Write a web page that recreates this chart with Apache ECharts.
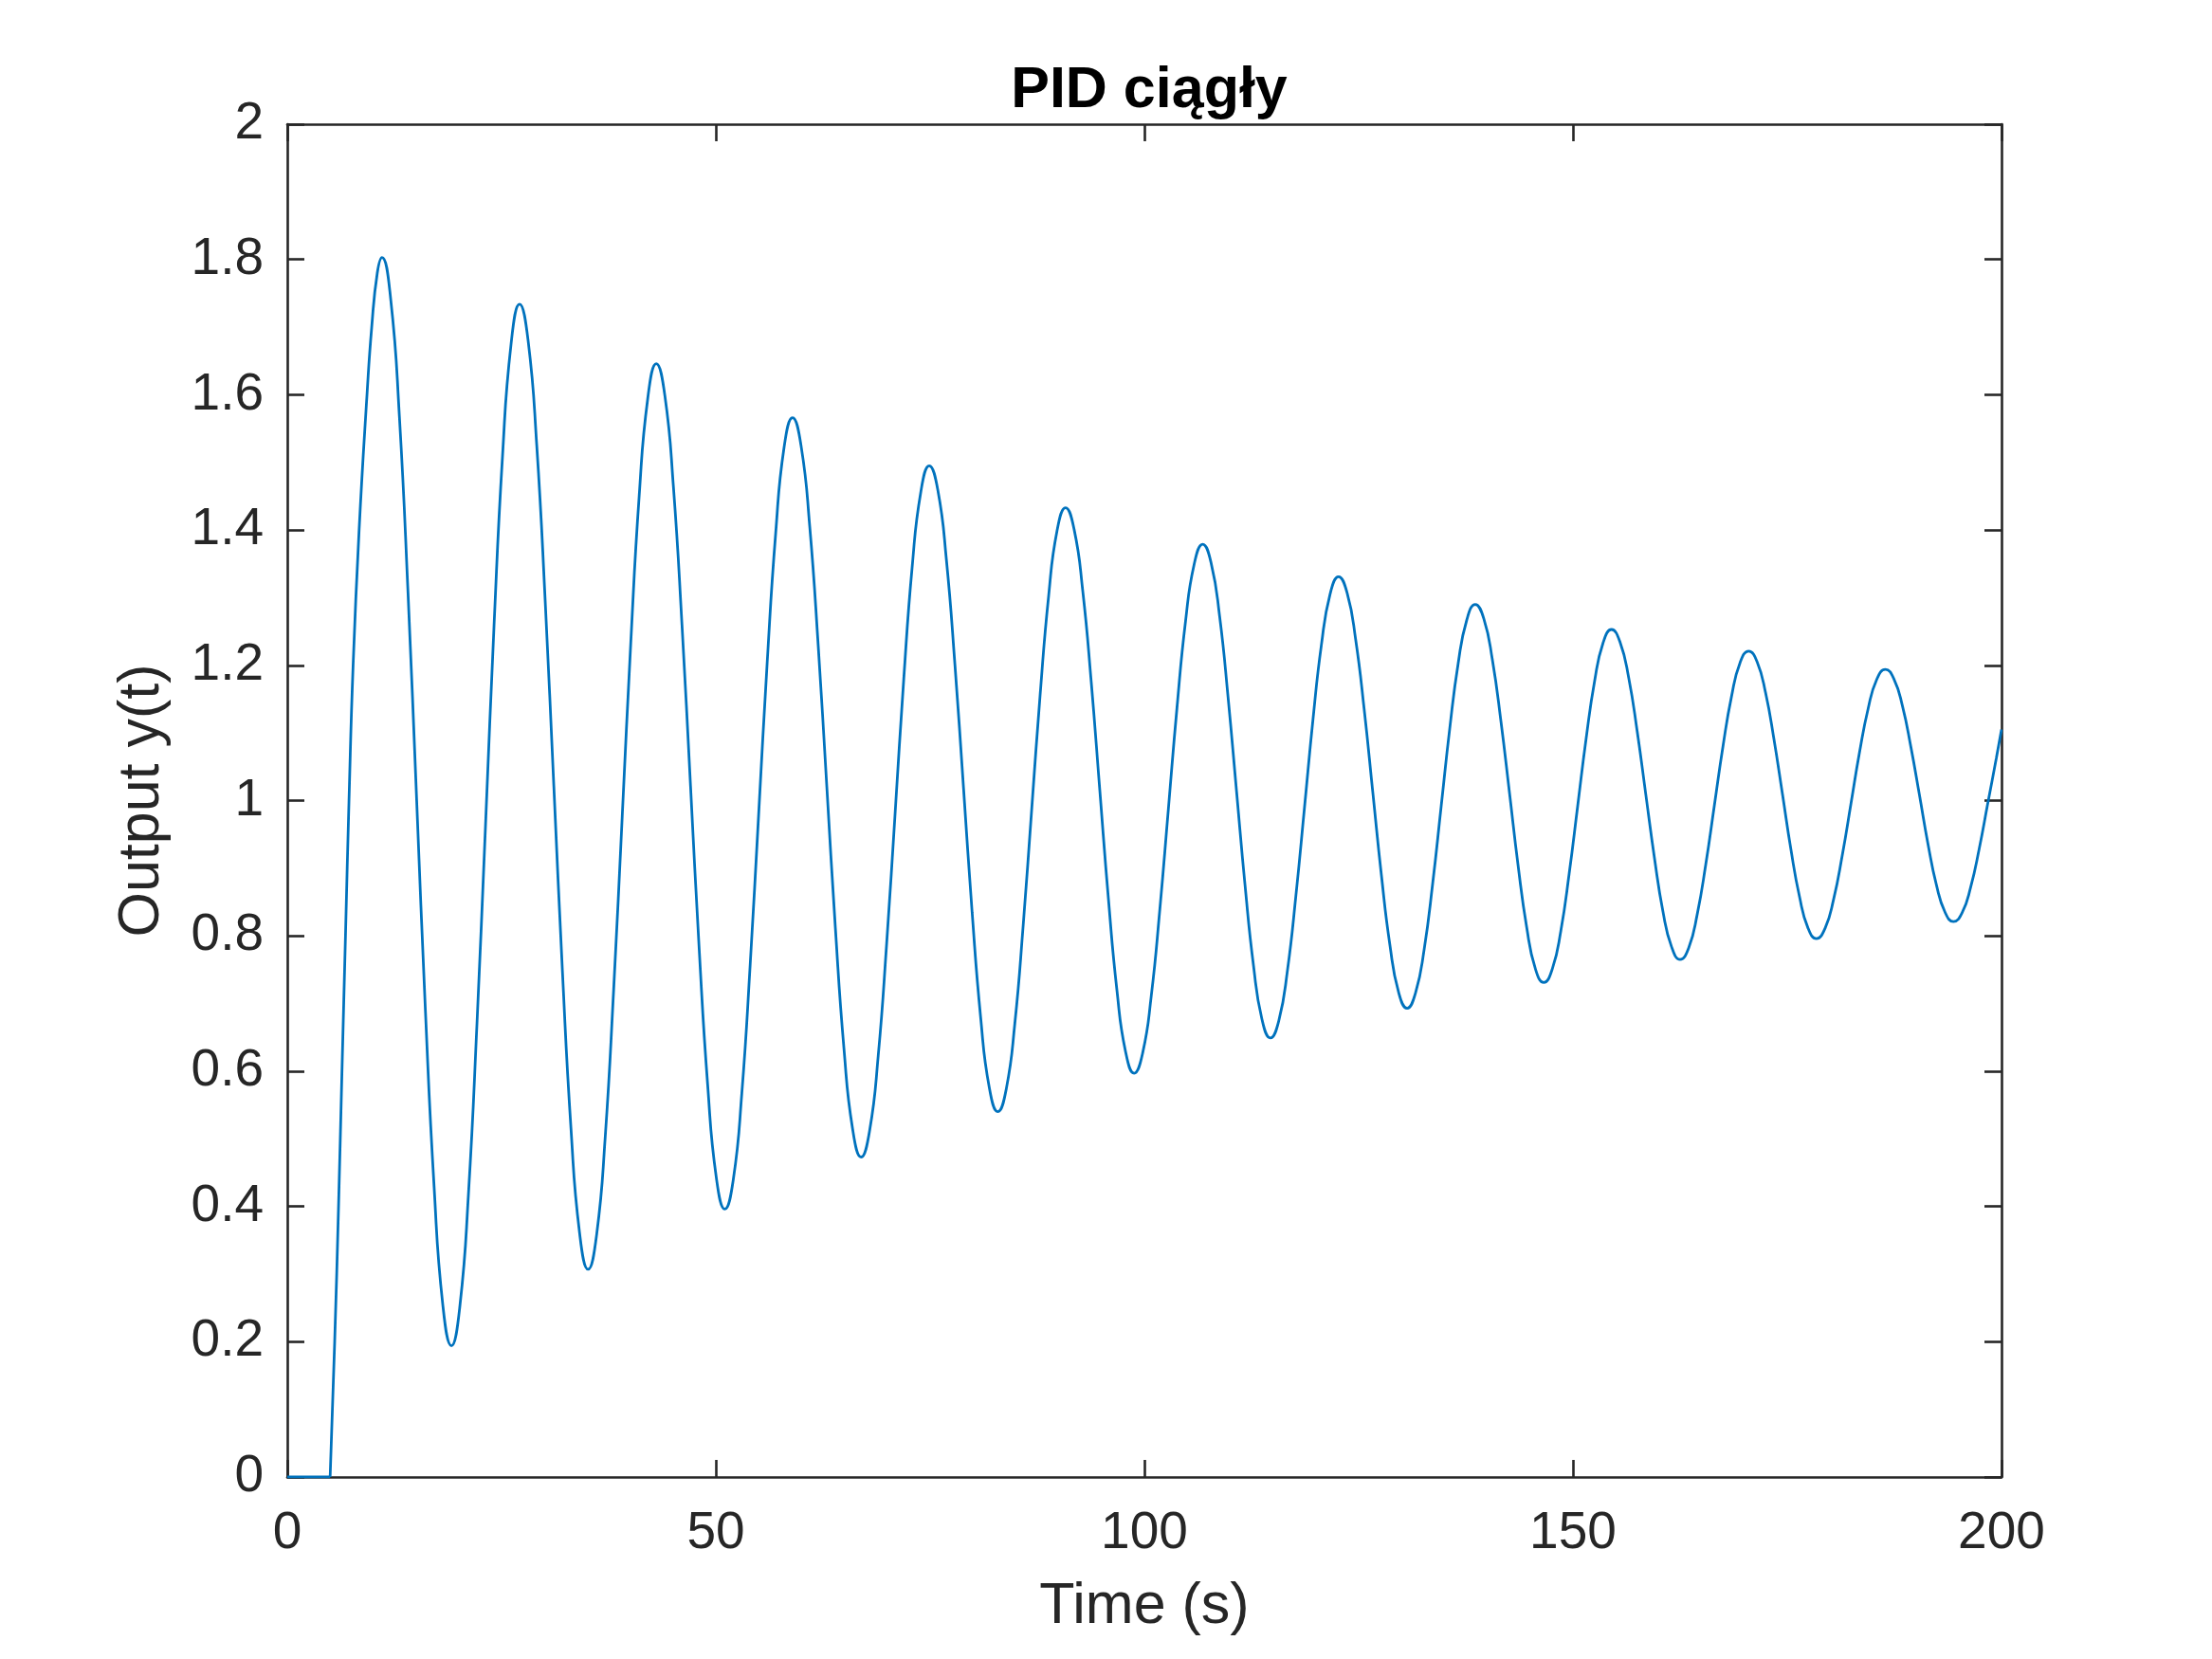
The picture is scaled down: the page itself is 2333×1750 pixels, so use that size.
<!DOCTYPE html>
<html>
<head>
<meta charset="utf-8">
<script src="https://cdn.jsdelivr.net/npm/echarts@6/dist/echarts.min.js"></script>
<style>
html,body{margin:0;padding:0;background:#fff;}
#chart{width:2333px;height:1750px;}
</style>
</head>
<body>
<div id="chart"></div>
<script>
// ---- data ----
var titleText = 'PID ciągły';
var xName = 'Time (s)';
var yName = 'Output y(t)';

var delayTime = [0, 5];
var delayOutput = [0, 0];

var time = [
  5, 5.53, 5.98, 6.38, 6.79, 7.2, 7.68, 8.38, 9.3, 9.85, 10.5, 11.05,
  12.06, 13.08, 14.09, 15.1, 16.11, 17.13, 18.14, 19.15,
  20.14, 21.14, 22.13, 23.13, 24.12, 25.11, 26.11, 27.1,
  28.1, 29.1, 30.1, 31.1, 32.1, 33.1, 34.1, 35.1,
  36.09, 37.09, 38.08, 39.08, 40.07, 41.06, 42.06, 43.05,
  44.05, 45.05, 46.05, 47.05, 48.05, 49.05, 50.05, 51.05,
  52.04, 53.03, 54.01, 55.0, 55.99, 56.98, 57.96, 58.95,
  59.95, 60.95, 61.95, 62.95, 63.95, 64.95, 65.95, 66.95,
  67.94, 68.94, 69.93, 70.93, 71.92, 72.91, 73.91, 74.9,
  75.9, 76.9, 77.9, 78.9, 79.9, 80.9, 81.9, 82.9,
  83.89, 84.88, 85.86, 86.85, 87.84, 88.83, 89.81, 90.8,
  91.8, 92.8, 93.8, 94.8, 95.8, 96.8, 97.8, 98.8,
  99.8, 100.8, 101.8, 102.8, 103.8, 104.8, 105.8, 106.8,
  107.79, 108.78, 109.76, 110.75, 111.74, 112.73, 113.71, 114.7,
  115.69, 116.69, 117.68, 118.68, 119.67, 120.66, 121.66, 122.65,
  123.65, 124.65, 125.65, 126.65, 127.65, 128.65, 129.65, 130.65,
  131.64, 132.64, 133.63, 134.63, 135.62, 136.61, 137.61, 138.6,
  139.6, 140.6, 141.6, 142.6, 143.6, 144.6, 145.6, 146.6,
  147.59, 148.58, 149.56, 150.55, 151.54, 152.53, 153.51, 154.5,
  155.5, 156.5, 157.5, 158.5, 159.5, 160.5, 161.5, 162.5,
  163.5, 164.5, 165.5, 166.5, 167.5, 168.5, 169.5, 170.5,
  171.49, 172.48, 173.46, 174.45, 175.44, 176.43, 177.41, 178.4,
  179.41, 180.41, 181.42, 182.43, 183.43, 184.44, 185.44, 186.45,
  187.44, 188.44, 189.43, 190.43, 191.42, 192.41, 193.41, 194.4,
  195.4, 196.4, 197.4, 198.4, 199.4, 200
];
var output = [
  0, 0.2, 0.4, 0.6, 0.8, 1.0, 1.2, 1.4, 1.6, 1.7, 1.78, 1.803,
  1.742, 1.568, 1.306, 0.999, 0.691, 0.429, 0.255, 0.194,
  0.253, 0.419, 0.670, 0.964, 1.258, 1.509, 1.675, 1.734,
  1.680, 1.526, 1.293, 1.021, 0.748, 0.515, 0.361, 0.307,
  0.358, 0.502, 0.721, 0.977, 1.232, 1.451, 1.595, 1.646,
  1.599, 1.464, 1.260, 1.021, 0.782, 0.579, 0.443, 0.396,
  0.440, 0.567, 0.758, 0.981, 1.204, 1.395, 1.522, 1.566,
  1.524, 1.406, 1.228, 1.020, 0.811, 0.633, 0.515, 0.473,
  0.512, 0.622, 0.789, 0.984, 1.179, 1.346, 1.456, 1.495,
  1.459, 1.356, 1.200, 1.018, 0.835, 0.679, 0.576, 0.540,
  0.574, 0.670, 0.816, 0.987, 1.157, 1.303, 1.399, 1.433,
  1.401, 1.311, 1.175, 1.015, 0.855, 0.719, 0.629, 0.597,
  0.627, 0.711, 0.839, 0.988, 1.137, 1.265, 1.349, 1.379,
  1.351, 1.272, 1.153, 1.014, 0.875, 0.756, 0.677, 0.649,
  0.675, 0.749, 0.860, 0.990, 1.120, 1.231, 1.305, 1.331,
  1.307, 1.238, 1.134, 1.012, 0.890, 0.786, 0.717, 0.693,
  0.716, 0.780, 0.877, 0.992, 1.106, 1.203, 1.267, 1.290,
  1.269, 1.208, 1.117, 1.011, 0.904, 0.813, 0.752, 0.731,
  0.751, 0.807, 0.892, 0.992, 1.092, 1.177, 1.233, 1.253,
  1.234, 1.182, 1.102, 1.009, 0.916, 0.836, 0.784, 0.765,
  0.782, 0.832, 0.906, 0.993, 1.080, 1.154, 1.204, 1.221,
  1.205, 1.159, 1.090, 1.009, 0.927, 0.858, 0.812, 0.796,
  0.811, 0.854, 0.919, 0.995, 1.071, 1.136, 1.179, 1.194,
  1.180, 1.140, 1.079, 1.008, 0.936, 0.875, 0.835, 0.821,
  0.834, 0.872, 0.929, 0.996, 1.063, 1.105
];

var xMin = 0, xMax = 200, xStep = 50;
var yMin = 0, yMax = 2, yStep = 0.2;

// ---- chart ----
var FONT = '"Liberation Sans", Arial, Helvetica, sans-serif';
var AX = '#262626';
var LINE = '#0072BD';

function pairs(xs, ys) {
  var out = [];
  var n = Math.min(xs.length, ys.length);
  for (var i = 0; i < n; i++) out.push([xs[i], ys[i]]);
  return out;
}

var chart = echarts.init(document.getElementById('chart'), null, {renderer: 'canvas'});

var axisLineStyle = {show: true, onZero: false, lineStyle: {color: AX, width: 2.6}};
var tickStyle = {show: true, inside: true, length: 18, lineStyle: {color: AX, width: 2.6}};

chart.setOption({
  animation: false,
  backgroundColor: '#ffffff',
  title: {
    text: titleText,
    left: 1207,
    top: 61,
    textAlign: 'center',
    textStyle: {fontFamily: FONT, fontSize: 61, fontWeight: 'bold', color: '#000000'}
  },
  grid: {left: 303, right: 222, top: 131, bottom: 192, containLabel: false},
  xAxis: [
    {
      type: 'value', position: 'bottom', min: xMin, max: xMax, interval: xStep,
      name: xName, nameLocation: 'middle', nameGap: 107,
      nameTextStyle: {fontFamily: FONT, fontSize: 61, color: AX},
      axisLine: axisLineStyle, axisTick: tickStyle,
      axisLabel: {show: true, margin: 32, fontFamily: FONT, fontSize: 55, color: AX},
      splitLine: {show: false}
    },
    {
      type: 'value', position: 'top', min: xMin, max: xMax, interval: xStep,
      axisLine: axisLineStyle, axisTick: tickStyle,
      axisLabel: {show: false}, splitLine: {show: false}
    }
  ],
  yAxis: [
    {
      type: 'value', position: 'left', min: yMin, max: yMax, interval: yStep,
      name: yName, nameLocation: 'middle', nameGap: 122,
      nameTextStyle: {fontFamily: FONT, fontSize: 61, color: AX},
      axisLine: axisLineStyle, axisTick: tickStyle,
      axisLabel: {show: true, margin: 25, fontFamily: FONT, fontSize: 55, color: AX},
      splitLine: {show: false}
    },
    {
      type: 'value', position: 'right', min: yMin, max: yMax, interval: yStep,
      axisLine: axisLineStyle, axisTick: tickStyle,
      axisLabel: {show: false}, splitLine: {show: false}
    }
  ],
  series: [
    {
      type: 'line', xAxisIndex: 0, yAxisIndex: 0,
      data: pairs(delayTime, delayOutput),
      showSymbol: false, symbol: 'none',
      lineStyle: {color: LINE, width: 2.8}
    },
    {
      type: 'line', xAxisIndex: 0, yAxisIndex: 0,
      data: pairs(time, output),
      smooth: 0.5,
      showSymbol: false, symbol: 'none',
      lineStyle: {color: LINE, width: 2.8}
    }
  ]
});
</script>
</body>
</html>
